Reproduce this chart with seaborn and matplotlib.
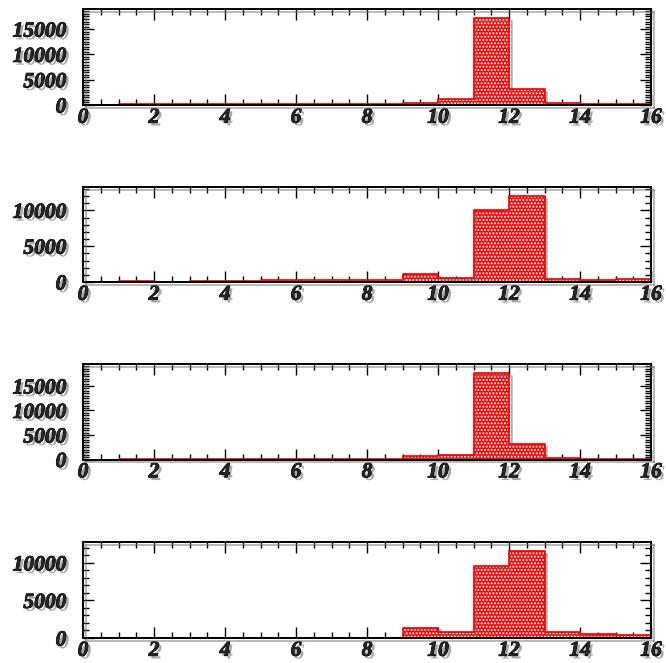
import matplotlib
matplotlib.use('Agg')
import matplotlib.pyplot as plt
import matplotlib.patheffects as pe
from matplotlib.ticker import MultipleLocator, FixedLocator
import seaborn as sns
import numpy as np
import pandas as pd

# bin edges 0..16, one bin per unit
bin_edges = list(range(17))
bin_centers = [b + 0.5 for b in range(16)]

# counts per bin
counts_1 = [0, 100, 100, 100, 100, 100, 100, 150, 200, 350, 1130, 17170, 3100, 340, 200, 200]
counts_2 = [20, 130, 20, 100, 120, 250, 280, 300, 250, 1070, 610, 10000, 12000, 475, 330, 400]
counts_3 = [0, 60, 60, 60, 60, 60, 60, 100, 60, 680, 880, 17630, 3075, 400, 200, 40]
counts_4 = [0, 40, 40, 40, 40, 40, 40, 40, 40, 1380, 760, 9560, 11560, 760, 530, 400]

panels = [counts_1, counts_2, counts_3, counts_4]
yticks = [[0, 5000, 10000, 15000], [0, 5000, 10000], [0, 5000, 10000, 15000], [0, 5000, 10000]]
yminor = [500, 1000, 500, 1000]
xticks = [0, 2, 4, 6, 8, 10, 12, 14, 16]

sns.set_style('white')
plt.rcParams['font.family'] = ['Liberation Serif', 'DejaVu Serif']
plt.rcParams['font.weight'] = 'bold'
plt.rcParams['font.style'] = 'italic'
plt.rcParams['hatch.linewidth'] = 1.0

W, H = 666, 663
fig = plt.figure(figsize=(W / 100, H / 100), dpi=100)

# axes boxes in pixels (top, bottom)
boxes = [(9, 105), (187, 282), (364, 459.5), (542, 638)]
left_px, right_px = 83, 651

text_shadow = [pe.withSimplePatchShadow(offset=(2, -2), shadow_rgbFace='0.4', alpha=0.55),
               pe.withStroke(linewidth=0.6, foreground='black')]
line_shadow = [pe.SimpleLineShadow(offset=(2, -2), shadow_color='0.45', alpha=0.5), pe.Normal()]

for i, counts in enumerate(panels):
    top, bot = boxes[i]
    ax = fig.add_axes([left_px / W, 1 - bot / H, (right_px - left_px) / W, (bot - top) / H])
    df = pd.DataFrame({'x': bin_centers, 'w': counts})

    sns.histplot(data=df, x='x', weights='w', bins=bin_edges, element='bars',
                 fill=True, color='#ff0000', alpha=1, linewidth=0, ax=ax)
    for p in ax.patches:
        p.set_hatch('.....')
        p.set_edgecolor('white')
        p.set_linewidth(0)
        p.set_path_effects([pe.withSimplePatchShadow(offset=(2, -2), shadow_rgbFace='0.5', alpha=0.35), pe.Normal()])

    sns.histplot(data=df, x='x', weights='w', bins=bin_edges, element='step',
                 fill=False, color='#ee0000', linewidth=1.2, ax=ax)
    for ln in ax.lines:
        ln.set_path_effects(line_shadow)

    ymax = max(counts) * 1.105
    ax.set_xlim(0, 16)
    ax.set_ylim(0, ymax)
    ax.set_xlabel('')
    ax.set_ylabel('')

    ax.xaxis.set_major_locator(FixedLocator(xticks))
    ax.xaxis.set_minor_locator(MultipleLocator(0.5))
    ax.yaxis.set_major_locator(FixedLocator(yticks[i]))
    ax.yaxis.set_minor_locator(MultipleLocator(yminor[i]))
    ax.set_xticklabels([str(t) for t in xticks])
    ax.set_yticklabels([str(t) for t in yticks[i]])

    ax.tick_params(which='both', direction='in', top=True, right=True, bottom=True, left=True,
                   width=1.0, color='black')
    ax.tick_params(which='major', length=8)
    ax.tick_params(which='minor', length=4)
    ax.tick_params(axis='x', which='major', labelsize=15.5, pad=2)
    ax.tick_params(axis='y', which='major', labelsize=15.5, pad=12)

    for lab in ax.get_xticklabels() + ax.get_yticklabels():
        lab.set_path_effects(text_shadow)
        lab.set_fontweight('bold')
        lab.set_fontstyle('italic')

    for s in ax.spines.values():
        s.set_visible(True)
        s.set_color('black')
        s.set_linewidth(1.4)
        s.set_path_effects(line_shadow)

fig.savefig('out.png', dpi=100, facecolor='white')
